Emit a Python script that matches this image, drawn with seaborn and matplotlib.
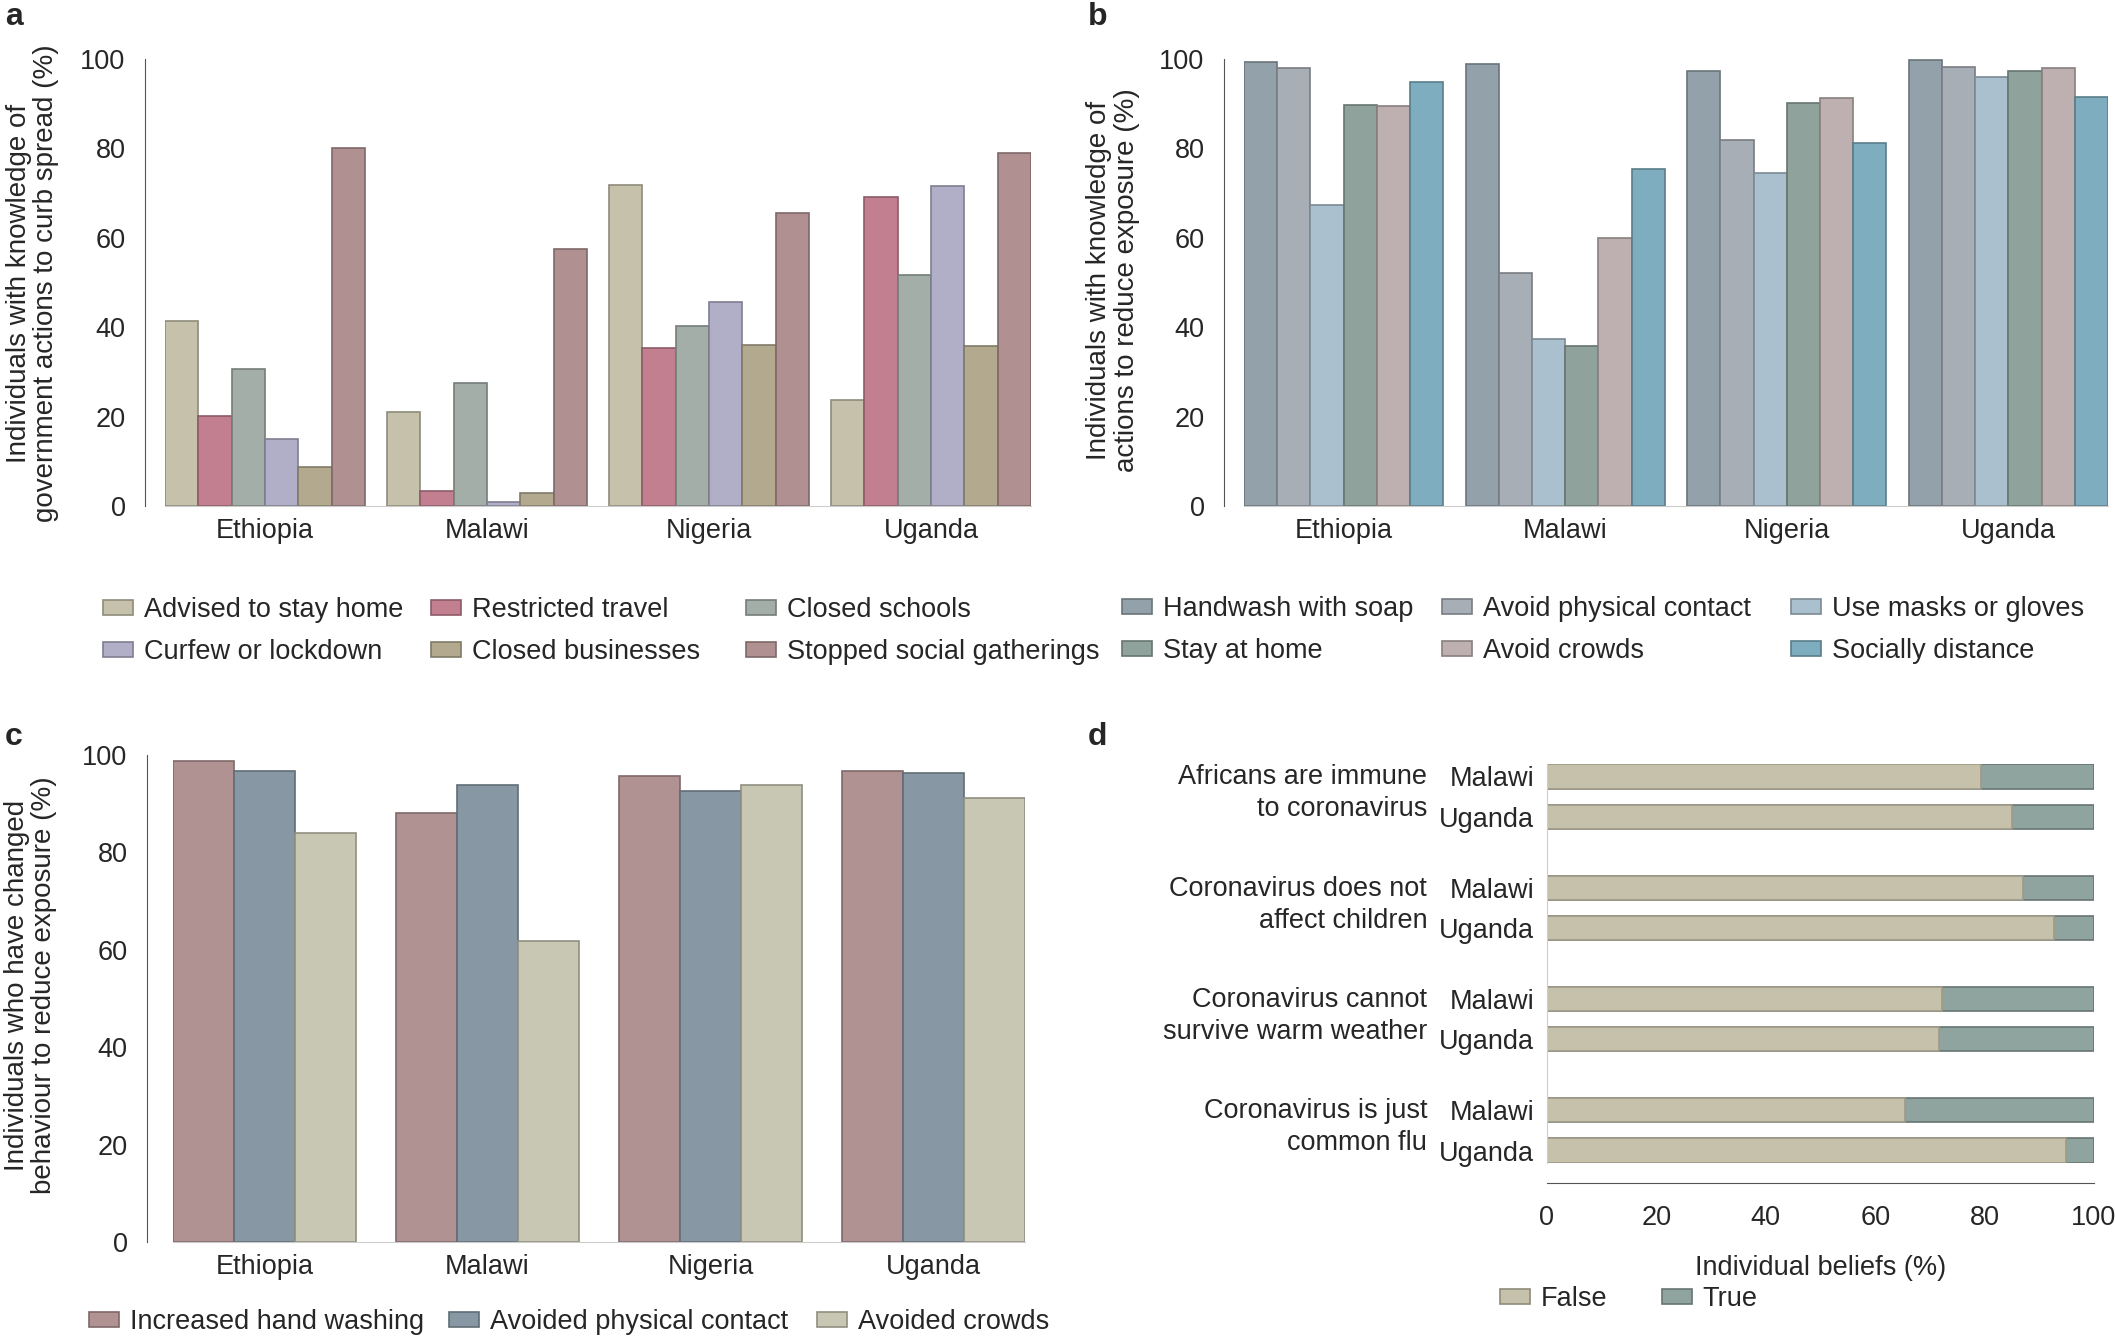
import numpy as np
import pandas as pd
import seaborn as sns
import matplotlib.pyplot as plt
from matplotlib.patches import Patch
from matplotlib.colors import to_rgb

# 국가
countries = ['Ethiopia', 'Malawi', 'Nigeria', 'Uganda']

# a: 정부 조치에 대한 인지 (%)
gov_actions = ['Advised to stay home', 'Restricted travel', 'Closed schools',
               'Curfew or lockdown', 'Closed businesses', 'Stopped social gatherings']
advised_home = [41.4, 21.1, 71.8, 23.7]
restricted_travel = [20.1, 3.4, 35.3, 69.1]
closed_schools = [30.7, 27.5, 40.3, 51.7]
curfew_lockdown = [14.9, 1.0, 45.6, 71.6]
closed_business = [8.8, 2.8, 36.1, 35.7]
stopped_gatherings = [80.1, 57.6, 65.5, 79.0]
gov_colors = ['#c5c1aa', '#c27f90', '#a3aea8', '#b0afc7', '#b2a98f', '#b09090']

# b: 노출을 줄이는 행동에 대한 인지 (%)
know_actions = ['Handwash with soap', 'Avoid physical contact', 'Use masks or gloves',
                'Stay at home', 'Avoid crowds', 'Socially distance']
handwash = [99.4, 98.8, 97.4, 99.7]
avoid_contact = [98.0, 52.1, 81.9, 98.3]
masks_gloves = [67.3, 37.3, 74.4, 95.9]
stay_home = [89.8, 35.7, 90.1, 97.4]
avoid_crowds = [89.4, 59.9, 91.3, 98.0]
social_distance = [94.9, 75.5, 81.3, 91.6]
know_colors = ['#93a1aa', '#a8aeb6', '#abc0ce', '#8fa29c', '#beb0b0', '#7eadbf']

# c: 행동 변화 (%)
behaviours = ['Increased hand washing', 'Avoided physical contact', 'Avoided crowds']
more_handwash = [98.7, 88.1, 95.7, 96.8]
avoided_contact = [96.8, 93.8, 92.6, 96.4]
avoided_crowds = [83.9, 61.9, 93.8, 91.2]
beh_colors = ['#b09293', '#8797a4', '#c8c7b3']

# d: 잘못된 믿음 (%)
beliefs = ['Africans are immune\nto coronavirus',
           'Coronavirus does not\naffect children',
           'Coronavirus cannot\nsurvive warm weather',
           'Coronavirus is just\ncommon flu']
belief_countries = ['Malawi', 'Uganda']
false_malawi = [79.3, 87.1, 72.3, 65.4]
true_malawi = [20.7, 12.9, 27.7, 34.6]
false_uganda = [85.1, 92.7, 71.6, 94.8]
true_uganda = [14.9, 7.3, 28.4, 5.2]
belief_labels = ['False', 'True']
belief_colors = ['#c5c1aa', '#8fa39f']

sns.set_style('white')
plt.rcParams['font.family'] = ['Liberation Sans', 'DejaVu Sans']
FS = 19.5
plt.rcParams['font.size'] = FS

W, H = 2115, 1340
fig = plt.figure(figsize=(W / 100, H / 100), dpi=100)


def rect(l, t, r, b):
    return [l / W, 1 - b / H, (r - l) / W, (b - t) / H]


def darker(c, f=0.72):
    return tuple(np.array(to_rgb(c)) * f)


def long_table(names, series):
    rows = []
    for name, vals in zip(names, series):
        for c, v in zip(countries, vals):
            rows.append({'country': c, 'item': name, 'value': v})
    return pd.DataFrame(rows)


def grouped(ax, df, names, colors, width, off):
    sns.barplot(data=df, x='country', y='value', hue='item', order=countries,
                hue_order=names, palette=colors, width=width, saturation=1,
                errorbar=None, legend=False, linewidth=1.2, ax=ax)
    for bar in ax.patches:
        bar.set_edgecolor(darker(bar.get_facecolor()))
    ax.set_xlim(-width / 2, 3 + width / 2)
    ax.set_ylim(0, 100)
    ax.set_yticks(range(0, 101, 20))
    sns.despine(ax=ax)
    ax.spines['left'].set_position(('outward', off))
    ax.spines['left'].set_color('#555555')
    ax.spines['bottom'].set_color('#cccccc')
    ax.tick_params(axis='y', length=8, width=1, color='#555555', pad=6, labelsize=FS)
    ax.tick_params(axis='x', length=0, pad=9, labelsize=FS)
    ax.set_xlabel('')
    ax.set_ylabel('')


def add_legend(names, colors, xs, ys):
    # 항목마다 따로 놓아 열 위치를 맞춤
    for k, (name, c) in enumerate(zip(names, colors)):
        h = Patch(facecolor=c, edgecolor=darker(c), linewidth=1.2)
        x = xs[k % len(xs)]
        y = ys[k // len(xs)]
        fig.legend([h], [name], loc='center left', bbox_to_anchor=(x / W, 1 - y / H),
                   frameon=False, fontsize=FS, handlelength=1.1, handleheight=0.5,
                   handletextpad=0.4, borderpad=0, borderaxespad=0)


ylab = dict(rotation=90, ha='center', va='center', fontsize=20, linespacing=1.05)

# a
ax_a = fig.add_axes(rect(165, 59, 1031, 506))
grouped(ax_a, long_table(gov_actions, [advised_home, restricted_travel, closed_schools,
                                       curfew_lockdown, closed_business, stopped_gatherings]),
        gov_actions, gov_colors, 0.9, 14.4)
fig.text(33 / W, 1 - 283 / H,
         'Individuals with knowledge of\ngovernment actions to curb spread (%)', **ylab)
add_legend(gov_actions, gov_colors, [103, 431, 746], [610, 652])

# b
ax_b = fig.add_axes(rect(1244, 59, 2108, 506))
grouped(ax_b, long_table(know_actions, [handwash, avoid_contact, masks_gloves,
                                        stay_home, avoid_crowds, social_distance]),
        know_actions, know_colors, 0.9, 14.4)
fig.text(1113 / W, 1 - 280 / H,
         'Individuals with knowledge of\nactions to reduce exposure (%)', **ylab)
add_legend(know_actions, know_colors, [1122, 1442, 1791], [609, 651])

# c
ax_c = fig.add_axes(rect(173, 755, 1025, 1242))
grouped(ax_c, long_table(behaviours, [more_handwash, avoided_contact, avoided_crowds]),
        behaviours, beh_colors, 0.82, 18.7)
fig.text(31 / W, 1 - 985 / H,
         'Individuals who have changed\nbehaviour to reduce exposure (%)', **ylab)
add_legend(behaviours, beh_colors, [89, 449, 817], [1322])

# d
gap = 2.77
rows = []
for i, b in enumerate(beliefs):
    for j, (c, fv, tv) in enumerate(zip(belief_countries,
                                        [false_malawi[i], false_uganda[i]],
                                        [true_malawi[i], true_uganda[i]])):
        rows.append({'pos': i * gap + j, 'country': c, 'false': fv, 'total': fv + tv})
df_d = pd.DataFrame(rows)

ax_d = fig.add_axes(rect(1547, 764, 2094, 1163))
sns.barplot(data=df_d, x='total', y='pos', orient='h', native_scale=True,
            color=belief_colors[1], width=0.6, saturation=1, errorbar=None,
            linewidth=1.2, edgecolor=darker(belief_colors[1]), ax=ax_d)
sns.barplot(data=df_d, x='false', y='pos', orient='h', native_scale=True,
            color=belief_colors[0], width=0.6, saturation=1, errorbar=None,
            linewidth=1.2, edgecolor=darker(belief_colors[0], 0.8), ax=ax_d)
ax_d.set_xlim(0, 100)
ax_d.set_ylim(3 * gap + 1 + 0.31, -0.31)
ax_d.set_xticks(range(0, 101, 20))
ax_d.set_yticks(df_d['pos'])
ax_d.set_yticklabels(df_d['country'])
sns.despine(ax=ax_d)
ax_d.spines['left'].set_color('#cccccc')
ax_d.spines['bottom'].set_position(('outward', 14.4))
ax_d.spines['bottom'].set_color('#555555')
ax_d.tick_params(axis='x', length=8, width=1, color='#555555', pad=8, labelsize=FS)
ax_d.tick_params(axis='y', length=0, pad=9, labelsize=FS)
ax_d.set_ylabel('')
ax_d.set_xlabel('Individual beliefs (%)', fontsize=FS, labelpad=17)
for i, b in enumerate(beliefs):
    ax_d.text(-0.219, i * gap + 0.42, b, transform=ax_d.get_yaxis_transform(),
              ha='right', va='center', multialignment='right', fontsize=FS,
              linespacing=1.3)
add_legend(belief_labels, belief_colors, [1500, 1662], [1299])

# 패널 라벨
for s, x, y in [('a', 5, 2), ('b', 1088, 2), ('c', 5, 722), ('d', 1088, 722)]:
    fig.text(x / W, 1 - y / H, s, fontsize=23, fontweight='bold', va='top', ha='left')

fig.savefig('out.png', dpi=100)
